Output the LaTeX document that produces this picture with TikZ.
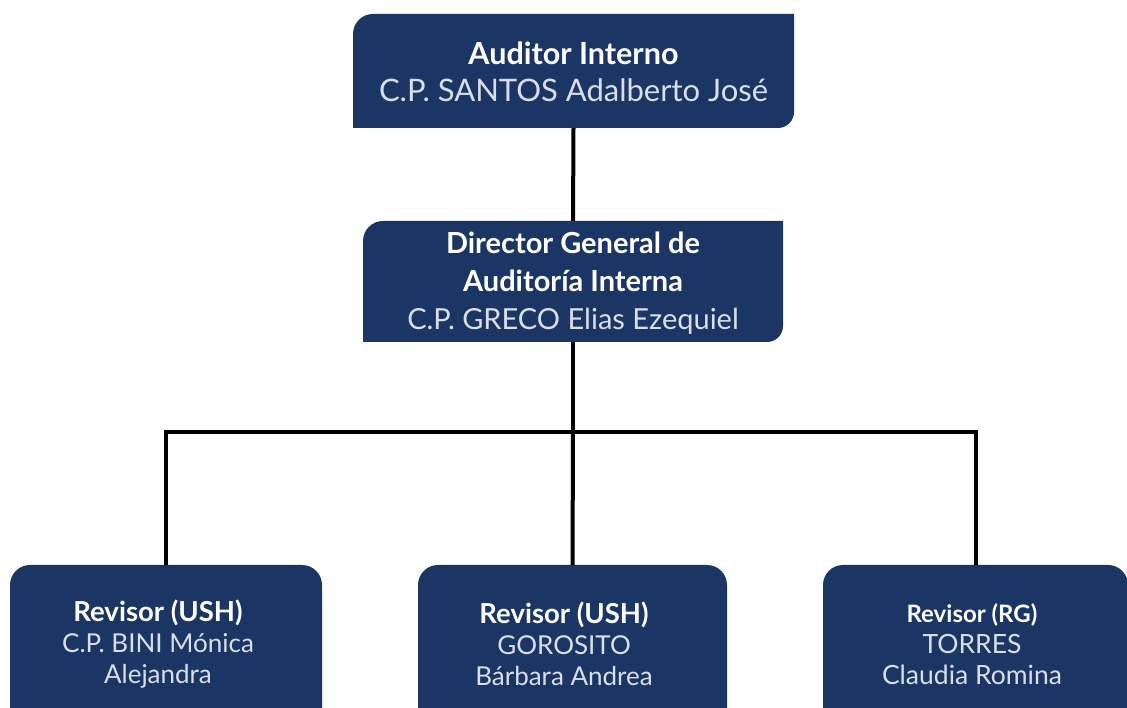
\documentclass[tikz,border=0pt]{standalone}
\usepackage{fontspec}
\setmainfont{Lato}
\definecolor{navy}{HTML}{1B3664}
\definecolor{namecol}{HTML}{D9DFEA}
\tikzset{
  boxarea/.style={shape=rectangle,inner sep=0pt,outer sep=0pt,draw=none},
  boxfill/.style={fill=navy},
  txt/.style={align=center,text=white,inner sep=0pt},
  conn/.style={draw=black,line width=4pt},
}
\newcommand{\ttl}[1]{{\bfseries\color{white}#1}}
\newcommand{\nm}[1]{{\color{namecol}#1}}
\begin{document}
\begin{tikzpicture}[x=1pt,y=1pt]
\clip (0,0) rectangle (1127,707);
\fill[white] (0,0) rectangle (1127,707);
% box areas
\node[boxarea,minimum width=441pt,minimum height=114pt] (top) at (573.5,636) {};
\node[boxarea,minimum width=420pt,minimum height=121pt] (dir) at (573,425.5) {};
\node[boxarea,minimum width=312pt,minimum height=172pt] (b1) at (166,56) {};
\node[boxarea,minimum width=309pt,minimum height=172pt] (b2) at (572.5,56) {};
\node[boxarea,minimum width=305pt,minimum height=172pt] (b3) at (975.5,56) {};
% box shapes
\fill[boxfill] (top.south west) -- ([yshift=-20pt]top.north west) arc[start angle=180,end angle=90,radius=20pt] -- (top.north east) -- ([yshift=16pt]top.south east) arc[start angle=0,end angle=-90,radius=16pt] -- cycle;
\fill[boxfill] (dir.south west) -- ([yshift=-20pt]dir.north west) arc[start angle=180,end angle=90,radius=20pt] -- (dir.north east) -- ([yshift=16pt]dir.south east) arc[start angle=0,end angle=-90,radius=16pt] -- cycle;
\foreach \b in {b1,b2,b3}{
  \fill[boxfill,rounded corners=20pt] (\b.south west) rectangle (\b.north east);
}
% connectors
\coordinate (j) at (573,275);
\draw[conn] (top.south) -- (dir.north);
\draw[conn] (dir.south) -- (j);
\draw[conn] (b1.north) |- (j) -| (b3.north);
\draw[conn] (j) -- (b2.north);
% texts
\node[txt,font=\fontsize{30.5}{37}\selectfont] (ttop) at (573.5,635) {\ttl{Auditor Interno}\\\nm{\fontsize{31}{37}\selectfont C.P. SANTOS Adalberto José}};
\node[txt,font=\fontsize{29}{38}\selectfont] (tdir) at (573,424) {\ttl{Director General de}\\\ttl{Auditoría Interna}\\\nm{C.P. GRECO Elias Ezequiel}};
\node[txt,font=\fontsize{26}{31}\selectfont] (tb1) at (158,63) {{\fontsize{27.5}{31}\selectfont\ttl{Revisor (USH)}}\\\nm{C.P. BINI Mónica}\\\nm{Alejandra}};
\node[txt,font=\fontsize{26}{31}\selectfont] (tb2) at (564,63) {{\fontsize{27.5}{31}\selectfont\ttl{Revisor (USH)}}\\\nm{GOROSITO}\\\nm{Bárbara Andrea}};
\node[txt,font=\fontsize{26.5}{31}\selectfont] (tb3) at (972,63) {{\fontsize{24}{31}\selectfont\ttl{Revisor (RG)}}\\\nm{TORRES}\\\nm{Claudia Romina}};
\end{tikzpicture}
\end{document}
